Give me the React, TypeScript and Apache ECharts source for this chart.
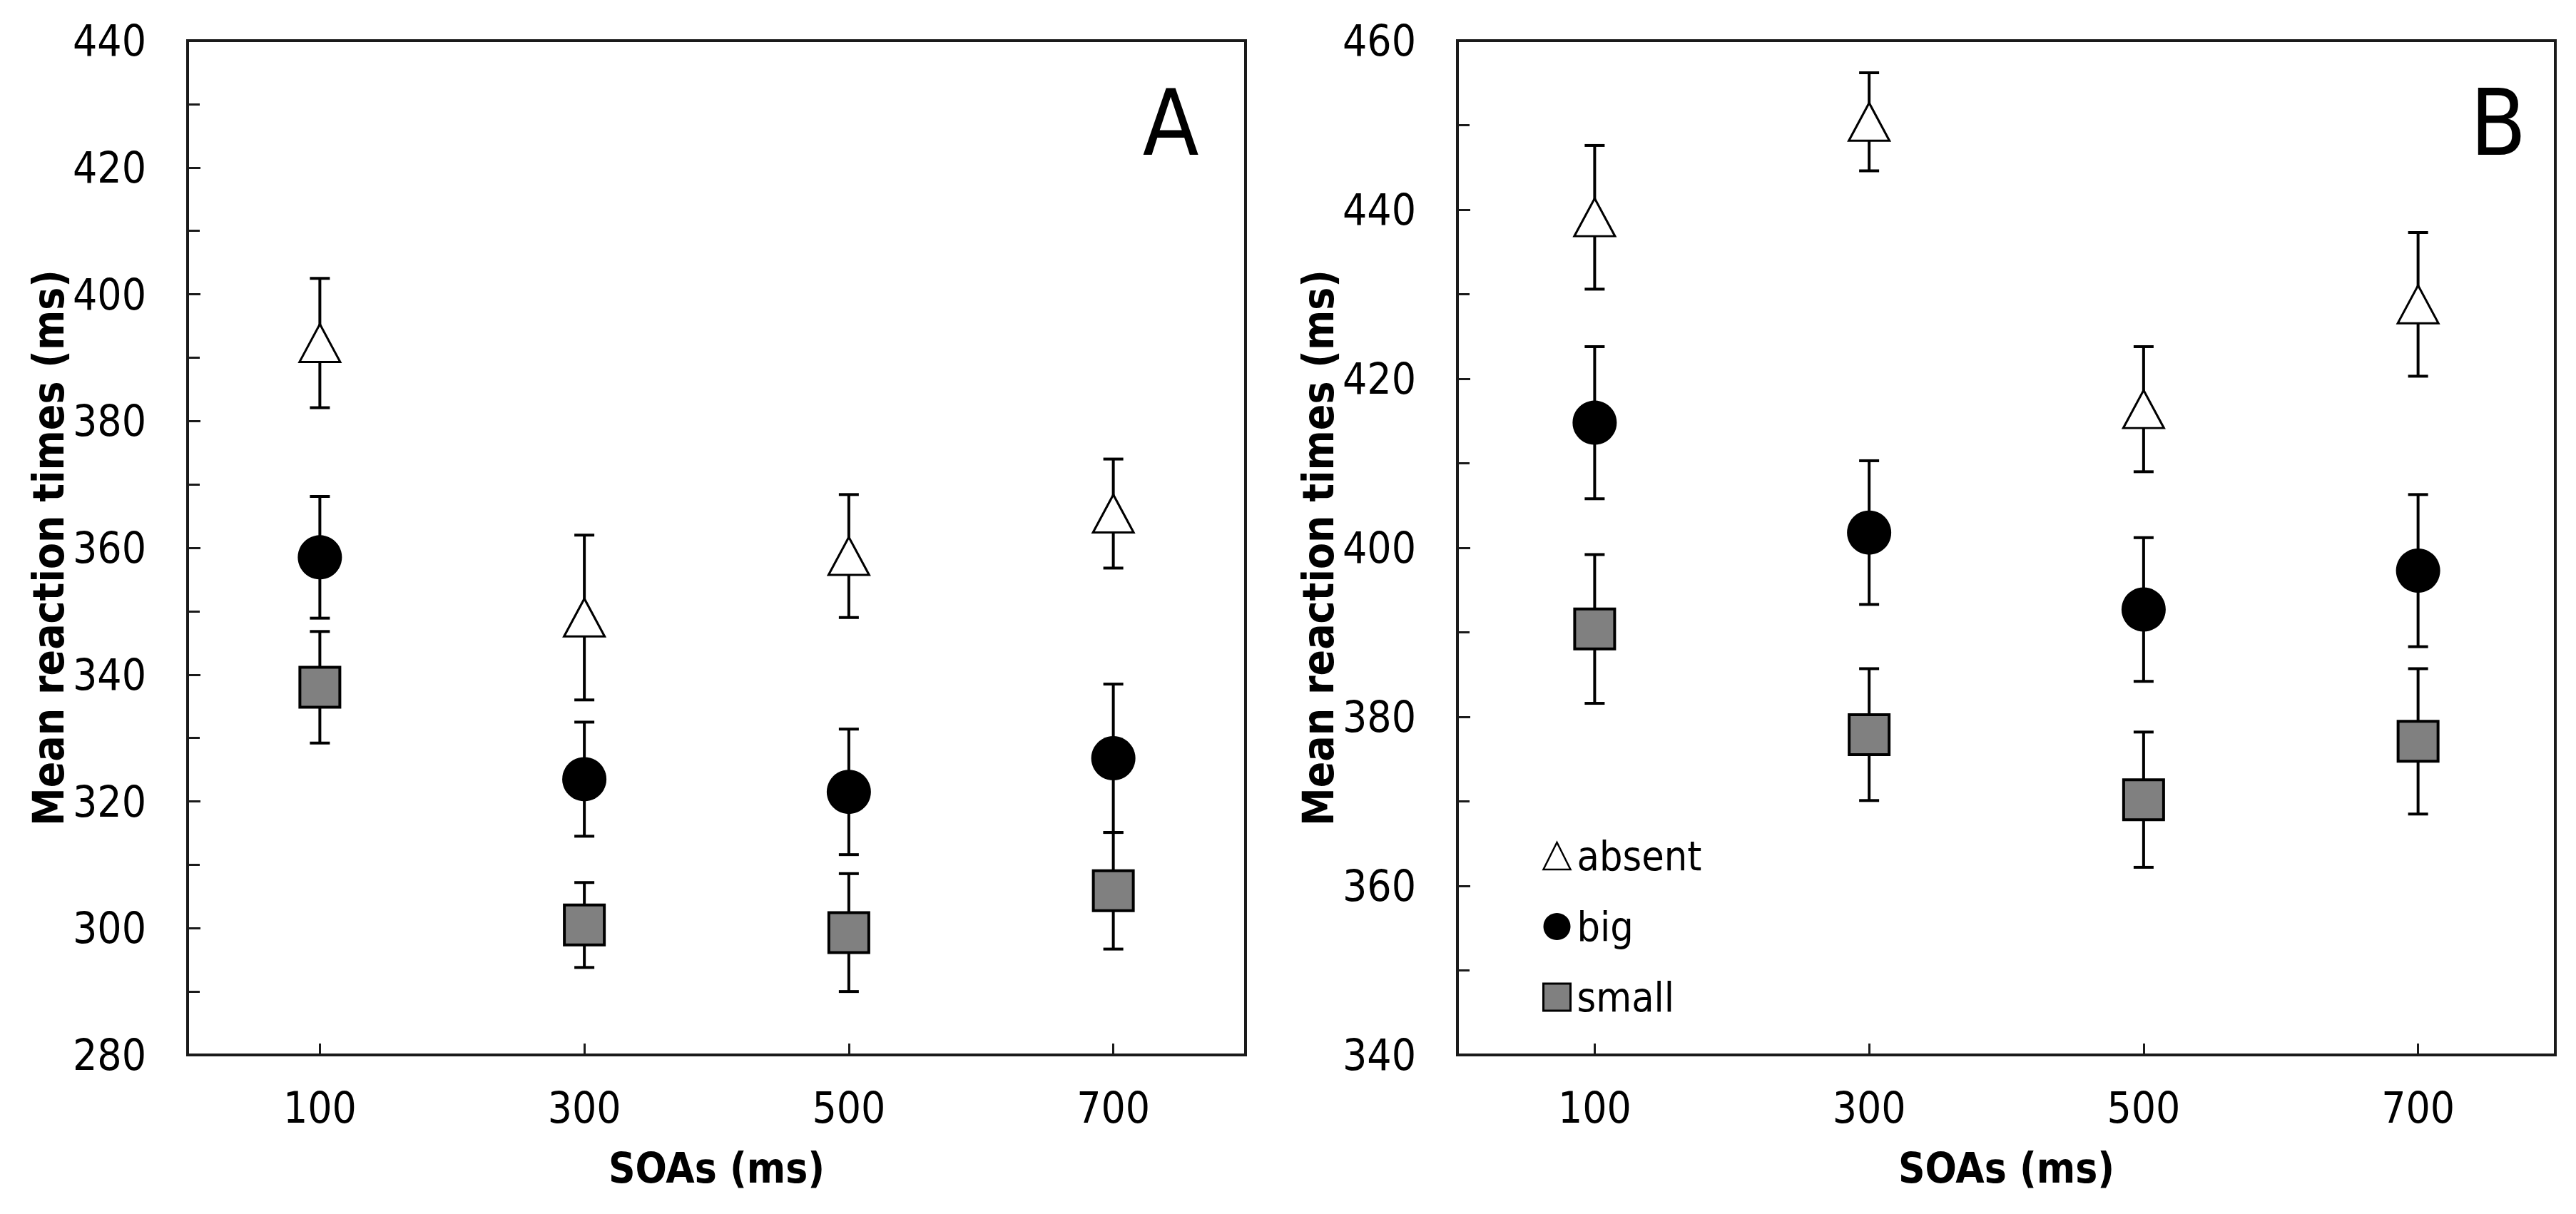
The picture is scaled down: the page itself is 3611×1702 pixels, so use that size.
import React, { useEffect, useRef } from "react";
import * as echarts from "echarts";

// ---- data ----
const soas = [100, 300, 500, 700];
const seriesNames = ["absent", "big", "small"];

// Panel A
const absentA = [392.3, 349.0, 358.7, 365.4];
const absentAErr = [10.2, 13.0, 9.7, 8.6];
const bigA = [358.5, 323.5, 321.5, 326.8];
const bigAErr = [9.6, 9.0, 9.9, 11.7];
const smallA = [338.0, 300.5, 299.3, 305.9];
const smallAErr = [8.8, 6.7, 9.3, 9.2];

// Panel B
const absentB = [439.1, 450.4, 416.4, 428.8];
const absentBErr = [8.5, 5.8, 7.4, 8.5];
const bigB = [414.8, 401.8, 392.7, 397.3];
const bigBErr = [9.0, 8.5, 8.5, 9.0];
const smallB = [390.4, 377.9, 370.2, 377.1];
const smallBErr = [8.8, 7.8, 8.0, 8.6];

const yRangeA = [280, 440];
const yRangeB = [340, 460];
const xRange = [0, 800];
const panelLabels = ["A", "B"];
const xTitle = "SOAs (ms)";
const yTitle = "Mean reaction times (ms)";

const FONT = "'DejaVu Sans Condensed', 'DejaVu Sans', sans-serif";
const INK = "#1a1a1a";

const markerStyles: Record<string, any> = {
  absent: {
    symbol: "triangle",
    symbolSize: [57, 53],
    itemStyle: { color: "#ffffff", borderColor: "#000", borderWidth: 3, opacity: 1 },
    legendStyle: { color: "#ffffff", borderColor: "#000", borderWidth: 2.5, opacity: 1 },
  },
  big: {
    symbol: "circle",
    symbolSize: 62,
    itemStyle: { color: "#000000", borderColor: "#000", borderWidth: 0, opacity: 1 },
    legendStyle: { color: "#000000", borderColor: "#000", borderWidth: 0, opacity: 1 },
  },
  small: {
    symbol: "rect",
    symbolSize: 56,
    itemStyle: { color: "#808080", borderColor: "#000", borderWidth: 4, opacity: 1 },
    legendStyle: { color: "#808080", borderColor: "#000", borderWidth: 3, opacity: 1 },
  },
};

function scatterSeries(name: string, idx: number, values: number[]) {
  const m = markerStyles[name];
  return {
    name,
    type: "scatter",
    xAxisIndex: idx,
    yAxisIndex: idx,
    z: 5,
    symbol: m.symbol,
    symbolSize: m.symbolSize,
    itemStyle: m.itemStyle,
    emphasis: { disabled: true },
    data: soas.map((x, i) => [x, values[i]]),
  };
}

function errorSeries(name: string, idx: number, values: number[], errs: number[]) {
  return {
    name: name + " error",
    type: "custom",
    xAxisIndex: idx,
    yAxisIndex: idx,
    z: 3,
    silent: true,
    encode: { x: 0, y: 1 },
    data: soas.map((x, i) => [x, values[i], errs[i]]),
    renderItem: (_params: any, api: any) => {
      const x = api.value(0);
      const y = api.value(1);
      const e = api.value(2);
      const top = api.coord([x, y + e]);
      const bot = api.coord([x, y - e]);
      const hw = 14;
      const style = { stroke: "#000", lineWidth: 4 };
      return {
        type: "group",
        children: [
          { type: "line", shape: { x1: top[0], y1: top[1], x2: bot[0], y2: bot[1] }, style },
          { type: "line", shape: { x1: top[0] - hw, y1: top[1], x2: top[0] + hw, y2: top[1] }, style },
          { type: "line", shape: { x1: bot[0] - hw, y1: bot[1], x2: bot[0] + hw, y2: bot[1] }, style },
        ],
      };
    },
  };
}

function xAxisCfg(idx: number) {
  return {
    gridIndex: idx,
    type: "value",
    min: xRange[0],
    max: xRange[1],
    axisLine: { show: true, lineStyle: { color: INK, width: 4 } },
    axisTick: {
      show: true,
      inside: true,
      length: 16,
      customValues: soas,
      lineStyle: { color: INK, width: 3 },
    },
    axisLabel: {
      customValues: soas,
      fontSize: 60,
      fontFamily: FONT,
      color: "#000",
      margin: 44,
    },
    splitLine: { show: false },
    name: xTitle,
    nameLocation: "middle",
    nameGap: 130,
    nameTextStyle: { fontSize: 58, fontWeight: "bold", fontFamily: FONT, color: "#000" },
  };
}

function yAxisCfg(idx: number, range: number[]) {
  return {
    gridIndex: idx,
    type: "value",
    min: range[0],
    max: range[1],
    interval: 20,
    axisLine: { show: true, lineStyle: { color: INK, width: 4 } },
    axisTick: { show: true, inside: true, length: 18, lineStyle: { color: INK, width: 3 } },
    minorTick: { show: true, splitNumber: 2, length: 17, lineStyle: { color: INK, width: 3 } },
    splitLine: { show: false },
    minorSplitLine: { show: false },
    axisLabel: { fontSize: 60, fontFamily: FONT, color: "#000", margin: 58 },
    name: yTitle,
    nameLocation: "middle",
    nameGap: 164,
    nameTextStyle: { fontSize: 60, fontWeight: "bold", fontFamily: FONT, color: "#000" },
  };
}

export default function App() {
  const ref = useRef<HTMLDivElement>(null);

  useEffect(() => {
    document.body.style.margin = "0";
    if (!ref.current) return;
    const chart = echarts.init(ref.current, null, { renderer: "svg" });

    const option: any = {
      animation: false,
      backgroundColor: "#ffffff",
      textStyle: { fontFamily: FONT },
      grid: [
        { left: 263, top: 57, width: 1483, height: 1422, show: true, borderColor: INK, borderWidth: 4, backgroundColor: "transparent" },
        { left: 2043, top: 57, width: 1539, height: 1422, show: true, borderColor: INK, borderWidth: 4, backgroundColor: "transparent" },
      ],
      xAxis: [xAxisCfg(0), xAxisCfg(1)],
      yAxis: [yAxisCfg(0, yRangeA), yAxisCfg(1, yRangeB)],
      legend: {
        data: seriesNames.map((n) => ({
          name: n,
          icon: markerStyles[n].symbol,
          itemStyle: markerStyles[n].legendStyle,
        })),
        orient: "vertical",
        left: 2157,
        top: 1165,
        itemWidth: 38,
        itemHeight: 38,
        itemGap: 39,
        textStyle: { fontSize: 57, fontFamily: FONT, color: "#000", lineHeight: 60, padding: [0, 0, 0, 4] },
        selectedMode: false,
      },
      graphic: [
        {
          type: "text",
          x: 1641,
          y: 172,
          style: {
            text: panelLabels[0],
            fontSize: 128,
            fontFamily: FONT,
            fill: "#000",
            align: "center",
            verticalAlign: "middle",
          },
        },
        {
          type: "text",
          x: 3502,
          y: 172,
          style: {
            text: panelLabels[1],
            fontSize: 128,
            fontFamily: FONT,
            fill: "#000",
            align: "center",
            verticalAlign: "middle",
          },
        },
      ],
      series: [
        errorSeries("absent", 0, absentA, absentAErr),
        errorSeries("big", 0, bigA, bigAErr),
        errorSeries("small", 0, smallA, smallAErr),
        errorSeries("absent", 1, absentB, absentBErr),
        errorSeries("big", 1, bigB, bigBErr),
        errorSeries("small", 1, smallB, smallBErr),
        scatterSeries("absent", 0, absentA),
        scatterSeries("big", 0, bigA),
        scatterSeries("small", 0, smallA),
        scatterSeries("absent", 1, absentB),
        scatterSeries("big", 1, bigB),
        scatterSeries("small", 1, smallB),
      ],
    };

    chart.setOption(option);
    return () => {
      chart.dispose();
    };
  }, []);

  return (
    <div
      ref={ref}
      style={{ position: "absolute", left: 0, top: 0, width: 3611, height: 1702 }}
    />
  );
}
